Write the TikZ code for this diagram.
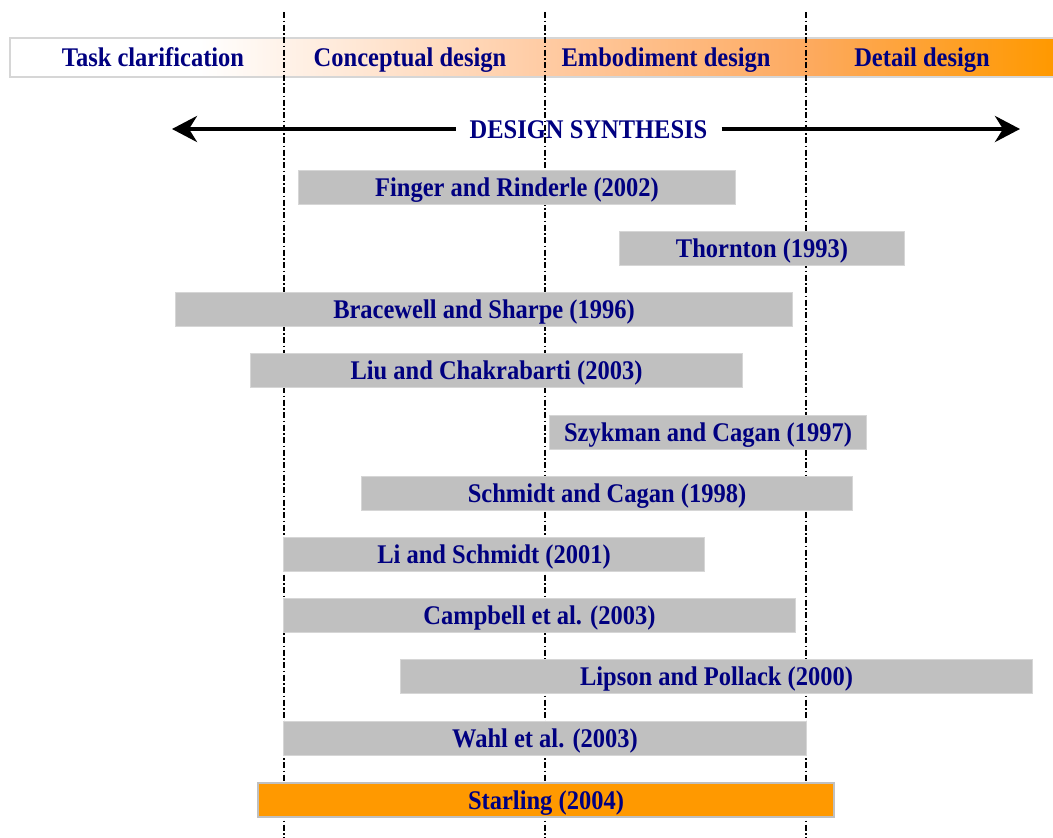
\documentclass[tikz,border=0pt]{standalone}
\usepackage{fontspec}
\setmainfont{Liberation Serif}
\usetikzlibrary{arrows.meta}
\definecolor{navy}{HTML}{000080}
\definecolor{bargray}{HTML}{C0C0C0}
\definecolor{barline}{HTML}{D6D6D6}
\definecolor{orng}{HTML}{FF9900}
\definecolor{peach}{HTML}{FFCBA3}
\definecolor{peach2}{HTML}{FDAA60}
\newcommand\tallt[1]{\scalebox{1}[1.1]{#1}}
\tikzset{
  lbl/.style={text=navy, font=\fontsize{24.5}{28}\selectfont\bfseries, text height=22pt, text depth=3pt},
  bar/.style={lbl, fill=bargray, draw=barline, line width=1pt, minimum height=34pt, inner sep=0pt, anchor=west},
  starbar/.style={bar, fill=orng, draw=bargray, line width=2pt},
  phase/.style={lbl},
  sep/.style={line width=1.4pt, dash pattern=on 6pt off 2.5pt on 1.5pt off 2.5pt},
  bigarrow/.style={line width=4pt, -{Stealth[length=25pt,width=26pt,inset=8pt]}}
}
\begin{document}
\begin{tikzpicture}[x=1pt,y=-1pt]
\useasboundingbox (0,0) rectangle (1053,838);
% top phase bar
\fill[white] (10,38) rectangle (200,77);
\fill[left color=white, right color=peach] (199.5,38) rectangle (545.5,77);
\fill[left color=peach, right color=peach2] (545,38) rectangle (806.5,77);
\fill[left color=peach2, right color=orng] (806,38) rectangle (1053,77);
\draw[barline, line width=1.5pt] (1053,38) -- (10,38) -- (10,77) -- (1053,77);
% separators
\foreach \x/\n in {284/s1,545/s2,806/s3}{
  \coordinate (\n t) at (\x,12);
  \coordinate (\n b) at (\x,838);
  \draw[sep] (\n t) -- (\n b);
}
% phase labels
\node[phase] (p1) at (153,57) {\tallt{Task clarification}};
\node[phase] (p2) at (410,57) {\tallt{Conceptual design}};
\node[phase] (p3) at (666,57) {\tallt{Embodiment design}};
\node[phase] (p4) at (922,57) {\tallt{Detail design}};
% design synthesis arrow
\node[lbl, inner xsep=14pt] (ds) at (588.5,129) {\tallt{DESIGN SYNTHESIS}};
\coordinate (al) at (172,129);
\coordinate (ar) at (1020,129);
\draw[bigarrow] (ds.west) -- (al);
\draw[bigarrow] (ds.east) -- (ar);
% bars
\node[bar, minimum width=437pt] (b1) at (298,187) {\tallt{Finger and Rinderle (2002)}};
\node[bar, minimum width=285pt] (b2) at (619,248) {\tallt{Thornton (1993)}};
\node[bar, minimum width=617pt] (b3) at (175,309) {\tallt{Bracewell and Sharpe (1996)}};
\node[bar, minimum width=492pt] (b4) at (250,370) {\tallt{Liu and Chakrabarti (2003)}};
\node[bar, minimum width=317pt] (b5) at (549,432) {\tallt{Szykman and Cagan (1997)}};
\node[bar, minimum width=491pt] (b6) at (361,493) {\tallt{Schmidt and Cagan (1998)}};
\node[bar, minimum width=421pt] (b7) at (283,554) {\tallt{Li and Schmidt (2001)}};
\node[bar, minimum width=512pt] (b8) at (283,615) {\tallt{Campbell et al. (2003)}};
\node[bar, minimum width=632pt] (b9) at (400,676) {\tallt{Lipson and Pollack (2000)}};
\node[bar, minimum width=523pt] (b10) at (283,738) {\tallt{Wahl et al. (2003)}};
\node[starbar, minimum width=576pt] (b11) at (257,800) {\tallt{Starling (2004)}};
\end{tikzpicture}
\end{document}
